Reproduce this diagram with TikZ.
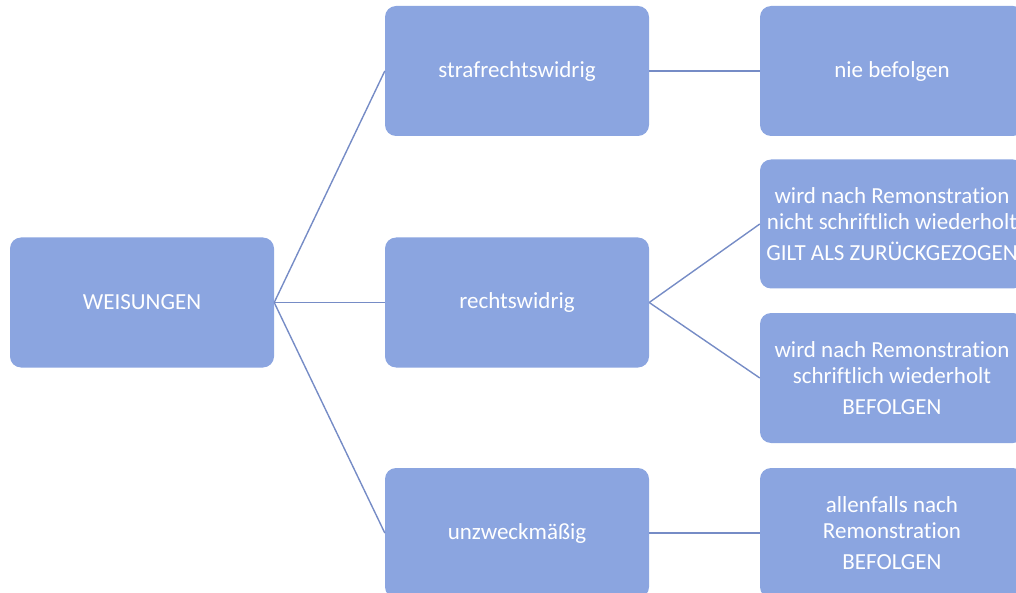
\documentclass[tikz,border=0pt]{standalone}
\usepackage{fontspec}
\setmainfont{Carlito}[Ligatures=NoCommon]
\definecolor{boxblue}{RGB}{139,165,224}
\definecolor{lineblue}{RGB}{118,140,198}
\begin{document}
\begin{tikzpicture}[x=1pt,y=-1pt,
  box/.style={fill=boxblue,draw=none,rounded corners=11pt,minimum width=264pt,minimum height=130pt,
    text=white,align=center,inner sep=0pt,font=\fontsize{23}{26}\selectfont},
  conn/.style={draw=lineblue,line width=1.4pt}]
\useasboundingbox (0,0) rectangle (1016,593);
\clip (0,0) rectangle (1016,593);
\node[box] (wei) at (142,302.5) {WEISUNGEN};
\node[box] (straf) at (517,71) {strafrechtswidrig};
\node[box] (recht) at (517,302.5) {rechtswidrig};
\node[box] (unz) at (517,533) {unzweckmäßig};
\node[box] (nie) at (892,71) {nie befolgen};
\node[box,minimum height=129pt] (zur) at (892,224) {wird nach Remonstration\\nicht schriftlich wiederholt\\[5pt]GILT ALS ZURÜCKGEZOGEN};
\node[box] (bef) at (892,378) {wird nach Remonstration\\schriftlich wiederholt\\[5pt]BEFOLGEN};
\node[box] (all) at (892,533) {allenfalls nach\\Remonstration\\[5pt]BEFOLGEN};
\draw[conn] (wei.east) -- (straf.west);
\draw[conn] (wei.east) -- (recht.west);
\draw[conn] (wei.east) -- (unz.west);
\draw[conn] (straf.east) -- (nie.west);
\draw[conn] (recht.east) -- (zur.west);
\draw[conn] (recht.east) -- (bef.west);
\draw[conn] (unz.east) -- (all.west);
\end{tikzpicture}
\end{document}
